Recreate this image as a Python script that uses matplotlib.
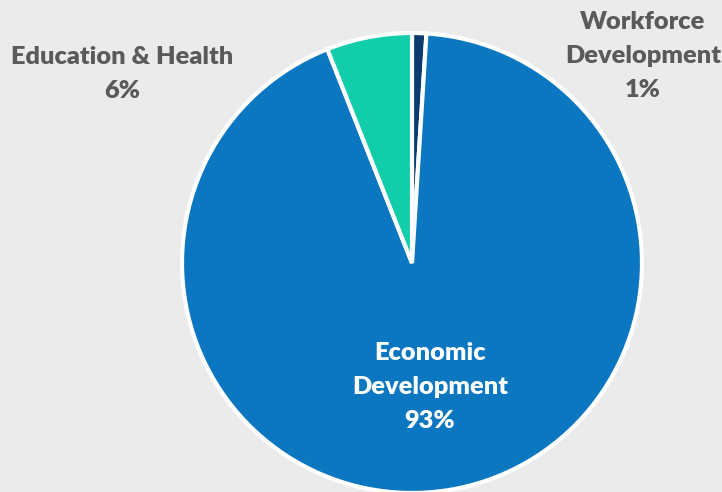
import matplotlib
matplotlib.use("Agg")
import matplotlib.pyplot as plt

# Share of spending by program area
categories = ["Workforce\nDevelopment", "Economic\nDevelopment", "Education & Health"]
shares = [1, 93, 6]
colors = ["#0b3a6e", "#0a77c0", "#11cdaa"]

W, H = 722, 492
fig = plt.figure(figsize=(W / 100, H / 100), dpi=100)
fig.patch.set_facecolor("#ebebeb")
ax = fig.add_axes([0, 0, 1, 1])

center = (412, H - 263)
radius = 230
ax.pie(shares, colors=colors, startangle=90, counterclock=False,
       center=center, radius=radius, frame=True,
       wedgeprops=dict(edgecolor="white", linewidth=3))
ax.set_xlim(0, W)
ax.set_ylim(0, H)
ax.set_aspect("equal")
ax.axis("off")

font = dict(family=["Lato", "DejaVu Sans"], fontweight="heavy", fontsize=18.3,
            ha="center", va="center", linespacing=1.65)
gray = "#5a5a5a"
ax.text(643, H - 56, f"{categories[0]}\n{shares[0]}%", color=gray, **font)
ax.text(122, H - 74, f"{categories[2]}\n{shares[2]}%", color=gray, **font)
ax.text(430, H - 387, f"{categories[1]}\n{shares[1]}%", color="white", **font)

fig.savefig("out.png", dpi=100, facecolor=fig.get_facecolor())
